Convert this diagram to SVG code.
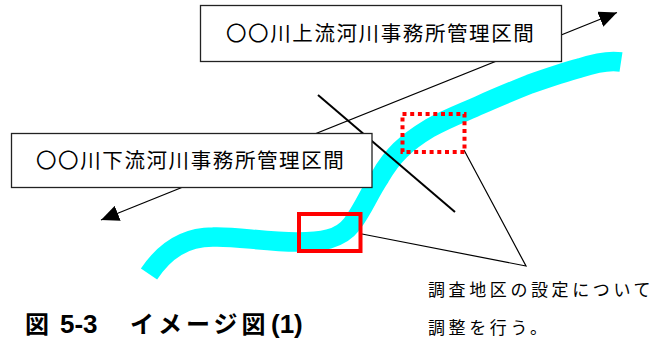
<svg xmlns="http://www.w3.org/2000/svg" width="663" height="340" viewBox="0 0 663 340">
<style>
text{font-family:"Noto Sans CJK JP","Liberation Sans",sans-serif;fill:#000}
.box{fill:#fff;stroke:#222;stroke-width:1.3}
.lab{font-size:20.5px;letter-spacing:1.6px}
.note{font-size:17px;letter-spacing:3.6px}
.cap{font-size:24px;font-weight:700}
.ln{fill:none;stroke:#000;stroke-width:1.2}
</style>
<defs><marker id="ah" markerUnits="userSpaceOnUse" markerWidth="20" markerHeight="16" refX="18" refY="8" orient="auto-start-reverse"><path d="M0 0L18 8L0 16Z" fill="#000"/></marker></defs>
<rect width="663" height="340" fill="#fff"/>
<path id="river" d="M149 274C165 250 185 237 213 237C235 236 265 242 297 242C320 242 340 240 352 224C365 206 368 195 380 177C392 156 405 143 430 128C450 117 465 112 480 105C500 96 515 90 530 84C550 77 565 72 580 68C595 63 608 60 621 62" fill="none" stroke="#0ff" stroke-width="19.5"/>
<g id="connectors">
<line class="ln" x1="617" y1="12.5" x2="101" y2="220" marker-start="url(#ah)" marker-end="url(#ah)"/>
<line x1="318" y1="95" x2="455" y2="212" stroke="#000" stroke-width="2"/>
<polyline class="ln" points="362,234 526,266 464,150"/>
</g>
<g id="upper"><rect class="box" x="200.5" y="5.5" width="361" height="56"/><text class="lab" x="226" y="41">〇〇川上流河川事務所管理区間</text></g>
<g id="lower"><rect class="box" x="11.5" y="133.5" width="360.5" height="54"/><text class="lab" x="36" y="168">〇〇川下流河川事務所管理区間</text></g>
<g id="marks">
<rect x="299" y="214" width="61.5" height="37" fill="none" stroke="#f00" stroke-width="4"/>
<rect x="402.5" y="114" width="62" height="38" fill="none" stroke="#f00" stroke-width="4" stroke-dasharray="4 3.7"/>
</g>
<g id="notes">
<text class="note" x="428" y="296">調査地区の設定について</text>
<text class="note" x="428" y="334">調整を行う。</text>
</g>
<g id="caption">
<text class="cap" x="25" y="333">図</text>
<text class="cap" x="60" y="333" style="font-family:'Liberation Sans',sans-serif;font-size:26px">5-3</text>
<text class="cap" x="130" y="333" letter-spacing="4">イメージ図</text>
<text class="cap" x="271" y="333" style="font-family:'Liberation Sans',sans-serif;font-size:26px">(1)</text>
</g>
</svg>
